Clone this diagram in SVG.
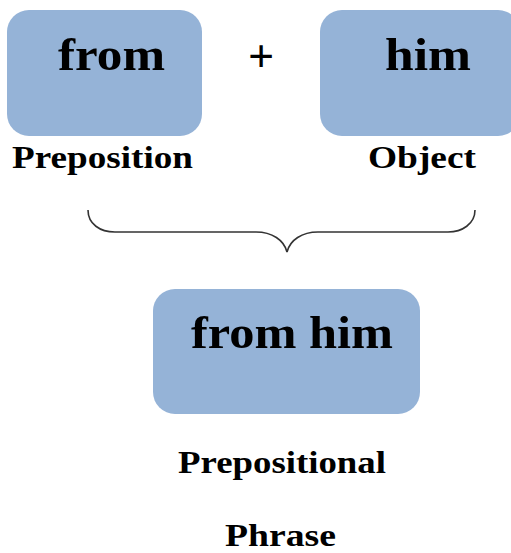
<svg xmlns="http://www.w3.org/2000/svg" width="511" height="553" viewBox="0 0 511 553">
<style>
.box{fill:#95B3D7;}
.big{font-family:"Liberation Serif",serif;font-weight:bold;font-size:46px;fill:#000;}
.lbl{font-family:"Liberation Serif",serif;font-weight:bold;font-size:31px;fill:#000;}
</style>
<rect width="511" height="553" fill="#fff"/>
<g id="from">
<rect class="box" x="7" y="10" width="195" height="126" rx="22"/>
<text class="big" x="58" y="70" textLength="107" lengthAdjust="spacingAndGlyphs">from</text>
</g>
<g id="plus">
<text class="big" x="261" y="72" text-anchor="middle" font-size="40">+</text>
</g>
<g id="him">
<rect class="box" x="320" y="10" width="200" height="126" rx="22"/>
<text class="big" x="385" y="70" textLength="86" lengthAdjust="spacingAndGlyphs">him</text>
</g>
<g id="preposition">
<text class="lbl" x="12" y="168" textLength="181" lengthAdjust="spacingAndGlyphs">Preposition</text>
</g>
<g id="object">
<text class="lbl" x="368" y="168" textLength="108" lengthAdjust="spacingAndGlyphs">Object</text>
</g>
<g id="connectors">
<path d="M88,210 C88,224 100,232 115,232 L256,232 C272,232 284,240 287,252 C290,240 302,232 318,232 L448,232 C462,232 475,224 475,210" fill="none" stroke="#333" stroke-width="1.6"/>
</g>
<g id="fromhim">
<rect class="box" x="153" y="289" width="267" height="125" rx="22"/>
<text class="big" x="191" y="348" textLength="202" lengthAdjust="spacingAndGlyphs">from him</text>
</g>
<g id="phrase">
<text class="lbl" x="178" y="473" textLength="208" lengthAdjust="spacingAndGlyphs">Prepositional</text>
<text class="lbl" x="225" y="546" textLength="111" lengthAdjust="spacingAndGlyphs">Phrase</text>
</g>
</svg>
